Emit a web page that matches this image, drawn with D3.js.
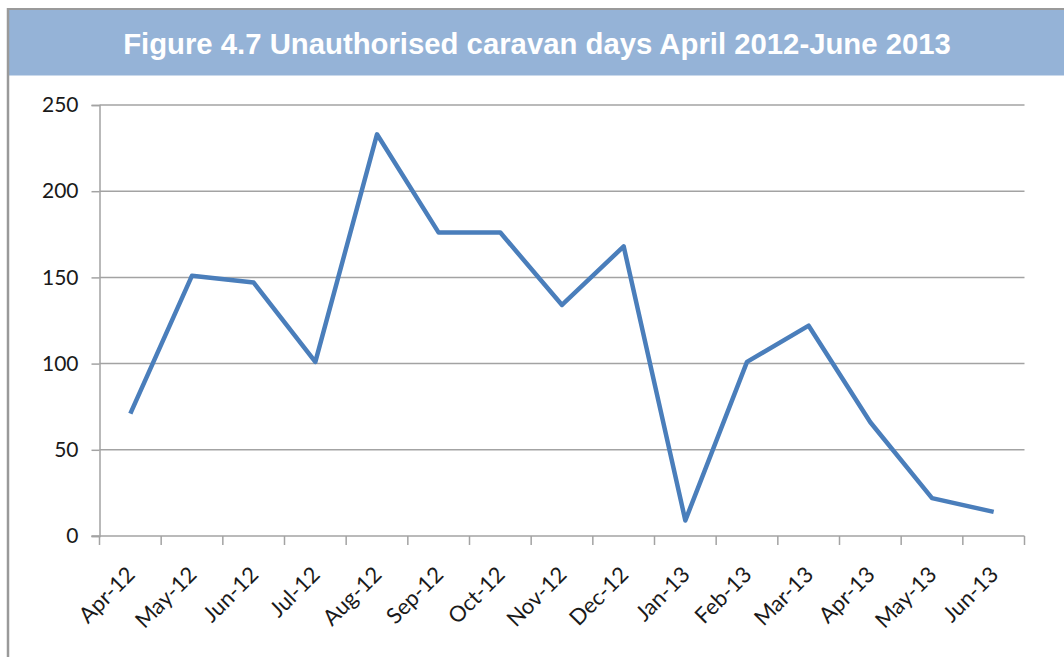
<!DOCTYPE html>
<html>
<head>
<meta charset="utf-8">
<script src="https://cdn.jsdelivr.net/npm/d3@7"></script>
<style>
  html, body { margin: 0; padding: 0; background: #ffffff; }
  svg { display: block; }
</style>
</head>
<body>
<svg id="chart" width="1064" height="657"></svg>
<script>
// Monthly unauthorised caravan days
const months = ["Apr-12", "May-12", "Jun-12", "Jul-12", "Aug-12", "Sep-12", "Oct-12", "Nov-12",
                "Dec-12", "Jan-13", "Feb-13", "Mar-13", "Apr-13", "May-13", "Jun-13"];
const caravanDays = [71, 151, 147, 101, 233, 176, 176, 134, 168, 9, 101, 122, 66, 22, 14];
const yTicks = [0, 50, 100, 150, 200, 250];
const titleText = "Figure 4.7 Unauthorised caravan days April 2012-June 2013";

(function () {
  const svg = d3.select("#chart");
  const W = 1064, H = 657;

  // Frame and title banner
  svg.append("rect").attr("x", 9).attr("y", 9.5).attr("width", W - 9).attr("height", 66)
    .attr("fill", "#95b3d7");
  svg.append("line").attr("x1", 7).attr("x2", W).attr("y1", 9).attr("y2", 9)
    .attr("stroke", "#9a9a9a").attr("stroke-width", 2);
  svg.append("line").attr("x1", 8).attr("x2", 8).attr("y1", 8).attr("y2", H)
    .attr("stroke", "#9a9a9a").attr("stroke-width", 2.5);
  svg.append("text")
    .attr("x", 537).attr("y", 43)
    .attr("text-anchor", "middle").attr("dominant-baseline", "central")
    .attr("font-family", "'Liberation Sans', Arial, sans-serif")
    .attr("font-weight", "bold").attr("font-size", 29.3)
    .attr("fill", "#ffffff")
    .text(titleText);

  // Plot area
  const pLeft = 99.5, pRight = 1024.5, pTop = 105, pBottom = 536;
  const x = d3.scaleBand().domain(months).range([pLeft, pRight]);
  const y = d3.scaleLinear().domain([0, 250]).range([pBottom, pTop]);
  const gridColor = "#a3a3a3";

  // Horizontal gridlines
  svg.append("g").selectAll("line").data(yTicks.filter(d => d > 0)).join("line")
    .attr("x1", pLeft).attr("x2", pRight)
    .attr("y1", d => y(d)).attr("y2", d => y(d))
    .attr("stroke", gridColor).attr("stroke-width", 1.5);

  // Y axis
  const yAxis = svg.append("g").attr("transform", `translate(${pLeft},0)`)
    .call(d3.axisLeft(y).tickValues(yTicks).tickSize(8).tickPadding(13));
  yAxis.select(".domain").attr("stroke", gridColor).attr("stroke-width", 1.5);
  yAxis.selectAll(".tick line").attr("stroke", gridColor).attr("stroke-width", 1.5);
  yAxis.selectAll(".tick text")
    .attr("font-family", "Lato, 'Open Sans', sans-serif")
    .attr("font-size", 21).attr("fill", "#1a1a1a");

  // X axis with ticks on category boundaries
  const boundaries = months.map(m => x(m)).concat([pRight]);
  const xg = svg.append("g");
  xg.append("line").attr("x1", pLeft - 8).attr("x2", pRight).attr("y1", pBottom).attr("y2", pBottom)
    .attr("stroke", gridColor).attr("stroke-width", 1.5);
  xg.selectAll("line.tk").data(boundaries).join("line").attr("class", "tk")
    .attr("x1", d => d).attr("x2", d => d)
    .attr("y1", pBottom).attr("y2", pBottom + 9)
    .attr("stroke", gridColor).attr("stroke-width", 1.5);
  xg.selectAll("text").data(months).join("text")
    .attr("transform", d => `translate(${x(d) + x.bandwidth() / 2 + 6},${pBottom + 40}) rotate(-45)`)
    .attr("text-anchor", "end")
    .attr("font-family", "Lato, 'Open Sans', sans-serif")
    .attr("font-size", 22).attr("fill", "#1a1a1a")
    .text(d => d);

  // Series line
  const line = d3.line()
    .x((d, i) => x(months[i]) + x.bandwidth() / 2)
    .y(d => y(d));
  svg.append("path").datum(caravanDays)
    .attr("d", line)
    .attr("fill", "none")
    .attr("stroke", "#4a7ebb")
    .attr("stroke-width", 4.5)
    .attr("stroke-linejoin", "round");
})();
</script>
</body>
</html>
